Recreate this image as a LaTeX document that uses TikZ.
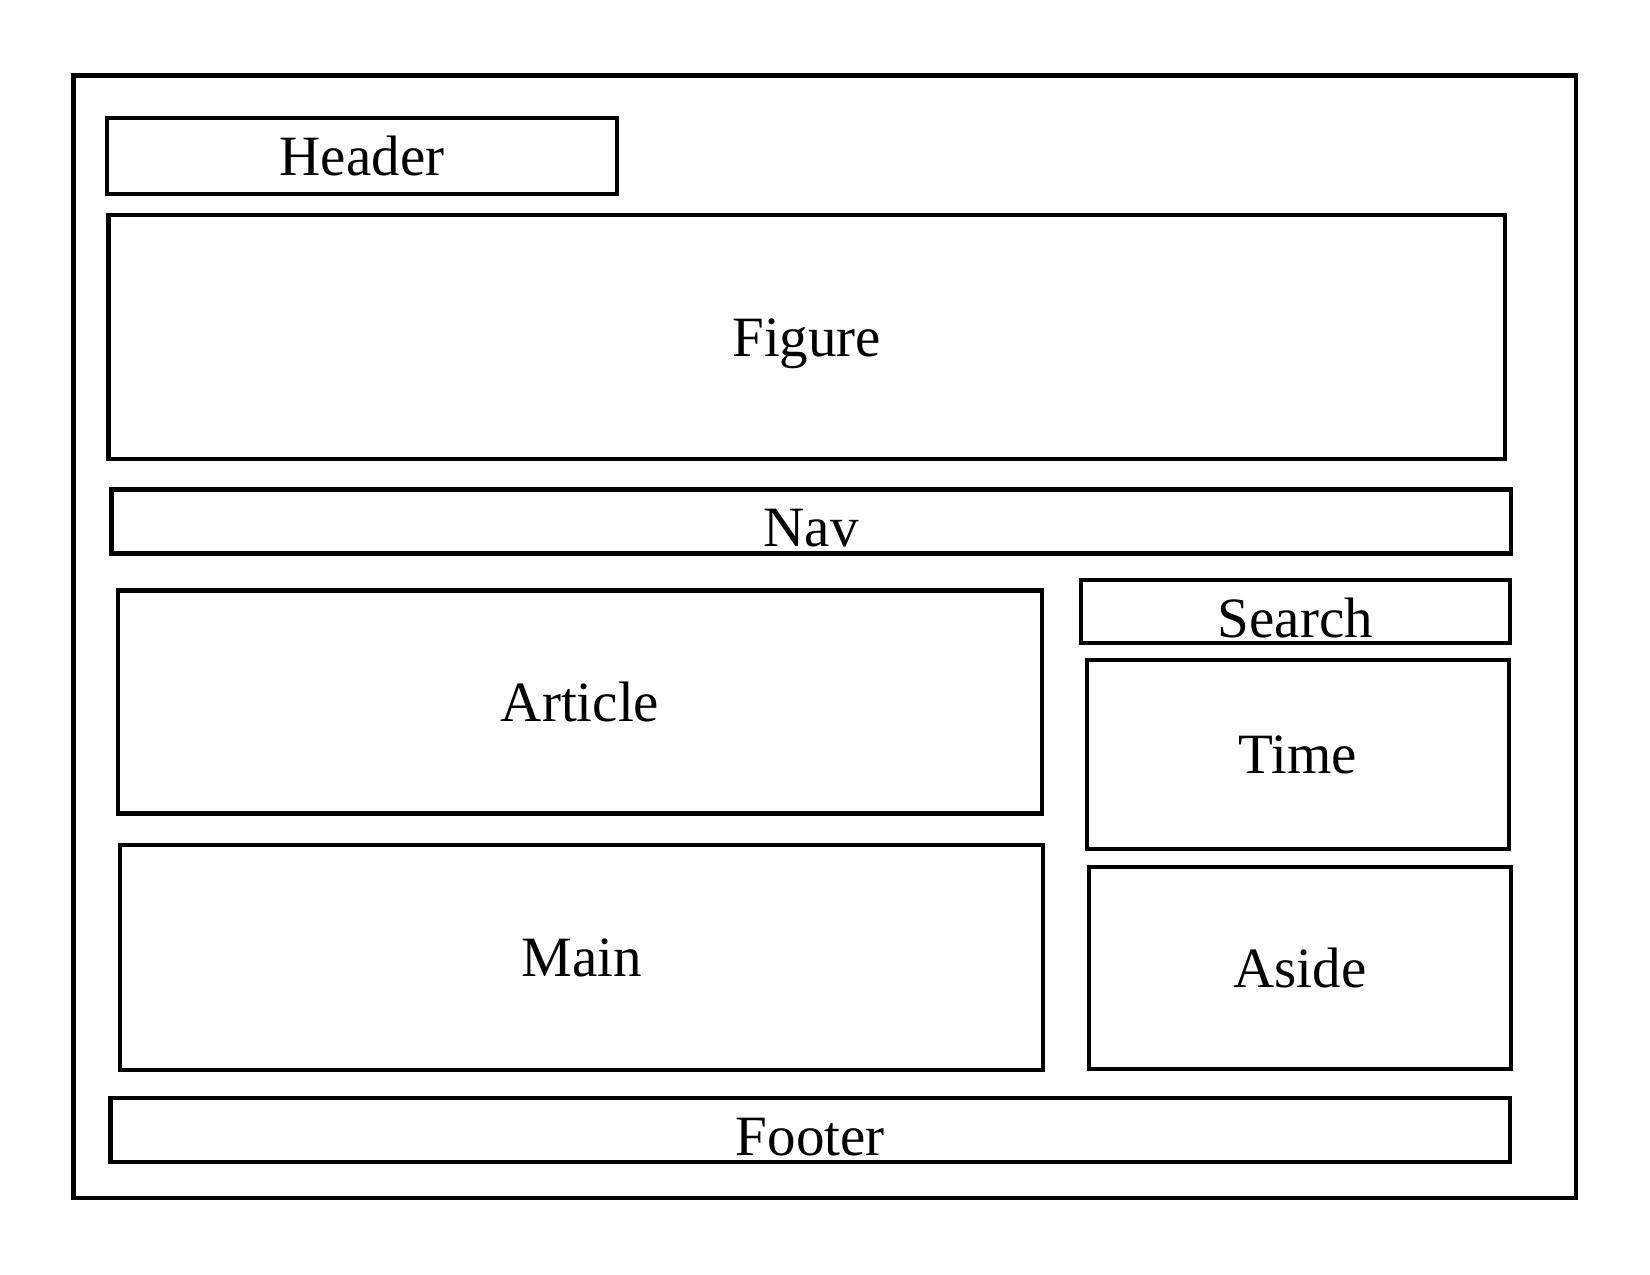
\documentclass[tikz,border=0pt]{standalone}
\usepackage{fontspec}
\setmainfont{Liberation Serif}
\begin{document}
\begin{tikzpicture}[x=1pt,y=-1pt,
  box/.style={draw=black,line width=4.2pt,fill=none},
  lbl/.style={inner sep=0pt,anchor=base,font=\fontsize{57}{68}\selectfont}]
\useasboundingbox (0,0) rectangle (1650,1275);
\fill[white] (0,0) rectangle (1650,1275);
\draw[box] (73.5,75.5) rectangle (1576,1198);
% boxes
\draw[box] (107,118) rectangle (617,194);
\draw[box] (108.5,215) rectangle (1505,459);
\draw[box] (111.5,489.5) rectangle (1511,553.5);
\draw[box] (118,590.5) rectangle (1042,813.5);
\draw[box] (120,845) rectangle (1043,1070);
\draw[box] (1081,580) rectangle (1510,643);
\draw[box] (1087,660) rectangle (1509,849);
\draw[box] (1089,867) rectangle (1511,1069);
\draw[box] (110.5,1098) rectangle (1510,1162);
% labels
\node[lbl] (header) at (362,175) {Header};
\node[lbl] (figure) at (806.75,356) {Figure};
\node[lbl] (nav) at (811.25,546) {Nav};
\node[lbl] (article) at (580,721) {Article};
\node[lbl] (main) at (581.5,976.5) {Main};
\node[lbl] (search) at (1295.5,637) {Search};
\node[lbl] (time) at (1298,773.5) {Time};
\node[lbl] (aside) at (1300,987) {Aside};
\node[lbl] (footer) at (810.25,1155.5) {Footer};
\end{tikzpicture}
\end{document}
